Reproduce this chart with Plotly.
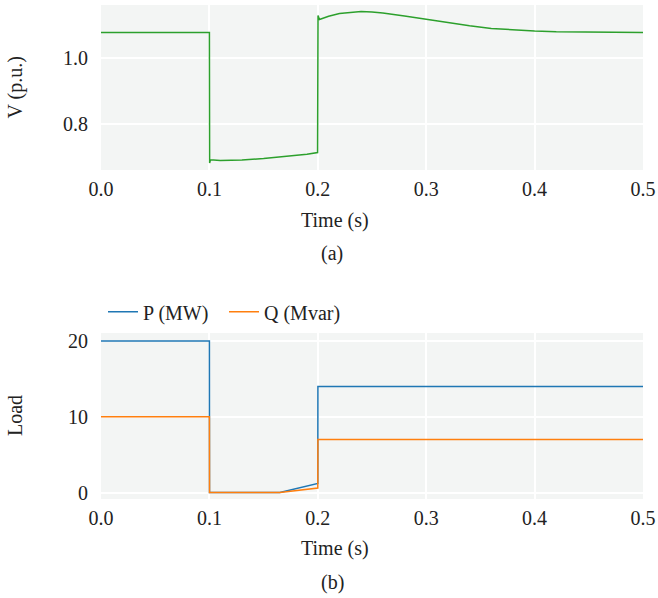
import plotly.graph_objects as go

# ---- data ----
t_v = [0.0, 0.1, 0.1002, 0.101, 0.11, 0.12, 0.13, 0.15, 0.17, 0.19, 0.1998,
       0.2002, 0.2015, 0.205, 0.21, 0.22, 0.23, 0.24, 0.25, 0.26, 0.28, 0.30,
       0.32, 0.34, 0.36, 0.38, 0.40, 0.42, 0.45, 0.5]
v_pu = [1.077, 1.077, 0.681, 0.691, 0.689, 0.689, 0.690, 0.695, 0.701, 0.708, 0.713,
        1.128, 1.116, 1.121, 1.126, 1.134, 1.138, 1.140, 1.139, 1.136, 1.127, 1.117,
        1.106, 1.097, 1.089, 1.084, 1.081, 1.079, 1.078, 1.077]

t_load = [0.0, 0.1, 0.1001, 0.165, 0.2, 0.2001, 0.5]
p_mw = [20, 20, 0, 0, 1.2, 14, 14]
q_mvar = [10, 10, 0, 0, 0.6, 7, 7]

x_ticks = [0.0, 0.1, 0.2, 0.3, 0.4, 0.5]
v_ticks = [0.8, 1.0]
load_ticks = [0, 10, 20]

FONT = "Liberation Serif"
TXT = "#222222"
BG = "#f3f5f4"

fig = go.Figure()
fig.add_trace(go.Scatter(x=t_v, y=v_pu, mode="lines", line=dict(color="#2ca02c", width=1.5),
                         showlegend=False, xaxis="x", yaxis="y"))
fig.add_trace(go.Scatter(x=t_load, y=p_mw, mode="lines", name="P (MW)",
                         line=dict(color="#1f77b4", width=1.5), xaxis="x2", yaxis="y2"))
fig.add_trace(go.Scatter(x=t_load, y=q_mvar, mode="lines", name="Q (Mvar)",
                         line=dict(color="#ff7f0e", width=1.5), xaxis="x2", yaxis="y2"))

H, W = 598, 658
L, R, T, B = 101, 15, 5, 99
ph = H - T - B
pw = W - L - R

def py(p):
    return (H - B - p) / ph

def px(p):
    return (p - L) / pw

common_x = dict(range=[0, 0.5], tickvals=x_ticks, tickformat=".1f", showgrid=True,
                gridcolor="white", gridwidth=2, zeroline=False, showline=False,
                ticks="outside", ticklen=1, tickcolor="rgba(0,0,0,0)",
                tickfont=dict(family=FONT, size=20, color=TXT))
common_y = dict(showgrid=True, gridcolor="white", gridwidth=2, zeroline=False, showline=False,
                ticks="outside", ticklen=8, tickcolor="rgba(0,0,0,0)",
                tickfont=dict(family=FONT, size=20, color=TXT))

fig.update_layout(
    width=W, height=H,
    margin=dict(l=L, r=R, t=T, b=B, autoexpand=False),
    paper_bgcolor="white", plot_bgcolor=BG,
    font=dict(family=FONT, size=20, color=TXT),
    xaxis=dict(domain=[0, 1], anchor="y", **common_x),
    yaxis=dict(domain=[py(170), 1], anchor="x", range=[0.66, 1.16], tickvals=v_ticks,
               tickformat=".1f", **common_y),
    xaxis2=dict(domain=[0, 1], anchor="y2", **common_x),
    yaxis2=dict(domain=[0, py(333)], anchor="x2", range=[-0.85, 21.05], tickvals=load_ticks,
                **common_y),
    legend=dict(orientation="h", x=px(103), xanchor="left", y=py(311.7), yanchor="middle",
                bgcolor="rgba(0,0,0,0)", font=dict(family=FONT, size=20, color=TXT),
                itemwidth=30, entrywidth=76, entrywidthmode="pixels"),
    showlegend=True,
)

ann = [
    dict(text="Time (s)", x=px(335), y=py(220)),
    dict(text="(a)", x=px(332), y=py(254)),
    dict(text="Time (s)", x=px(335), y=py(548)),
    dict(text="(b)", x=px(332), y=py(582)),
    dict(text="V (p.u.)", x=px(15), y=py(87.5), textangle=-90),
    dict(text="Load", x=px(15), y=py(416), textangle=-90),
]
for a in ann:
    fig.add_annotation(xref="paper", yref="paper", showarrow=False,
                       xanchor="center", yanchor="middle",
                       font=dict(family=FONT, size=20, color=TXT), **a)

fig.write_html("out.html", config={"displayModeBar": False},
               post_script="document.body.style.margin='0';document.body.style.overflow='hidden';")
